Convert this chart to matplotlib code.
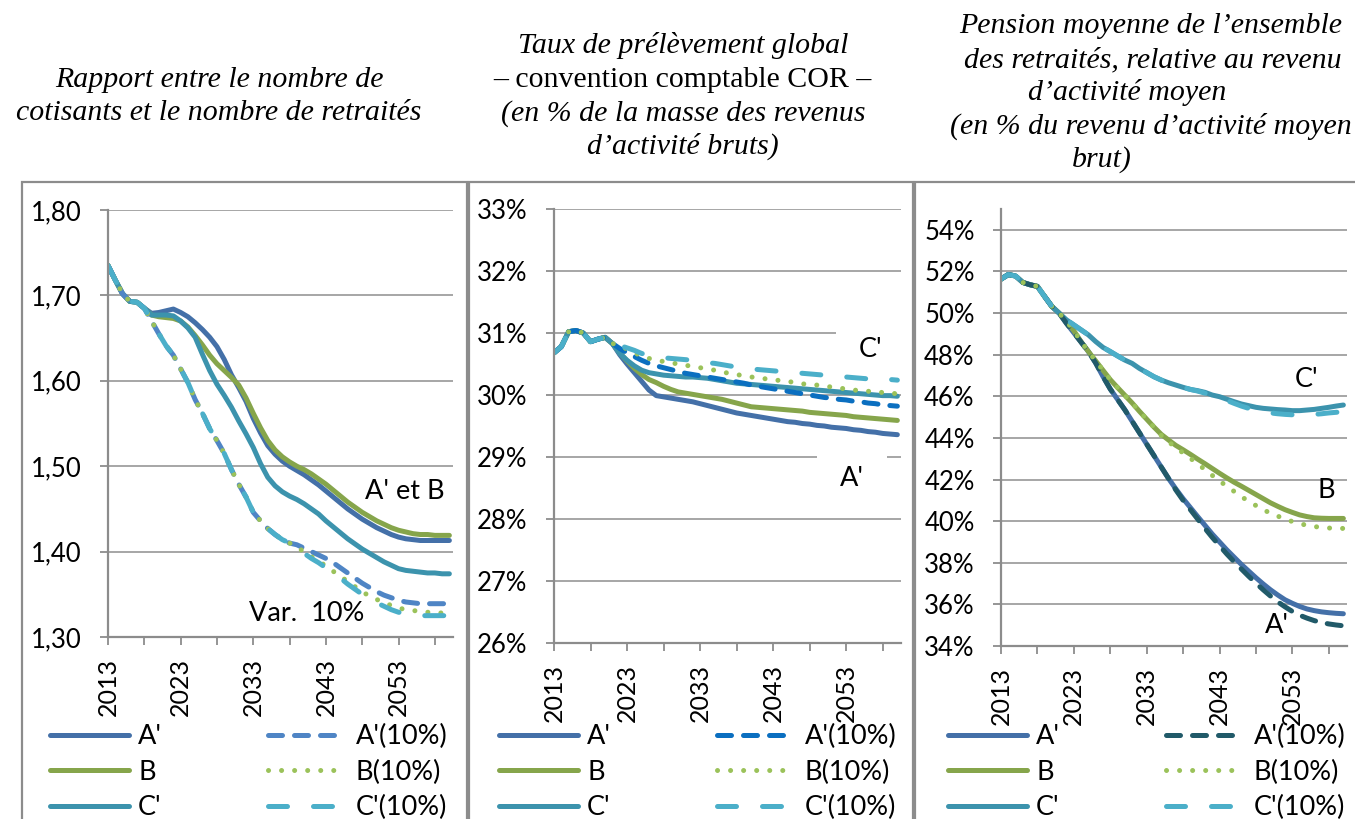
import matplotlib
matplotlib.use("Agg")
import matplotlib.pyplot as plt
from matplotlib.patches import Rectangle
from matplotlib.ticker import FuncFormatter, FixedLocator

plt.rcParams['font.family'] = ['Lato', 'DejaVu Sans']

years = list(range(2013, 2061))

# --- panel 1 : rapport cotisants / retraités (2013-2018 commun)
ratio_start = [1.735, 1.718, 1.702, 1.693, 1.692, 1.685]
ratio_a = ratio_start + [1.679, 1.680, 1.682, 1.684, 1.680, 1.675, 1.668, 1.660, 1.651, 1.640,
                         1.625, 1.607, 1.592, 1.576, 1.556, 1.539, 1.524, 1.514, 1.506, 1.500,
                         1.495, 1.490, 1.484, 1.478, 1.471, 1.464, 1.457, 1.450, 1.444, 1.438,
                         1.433, 1.428, 1.424, 1.420, 1.417, 1.415, 1.414, 1.413, 1.413, 1.413,
                         1.413, 1.413]
ratio_b = ratio_start + [1.677, 1.675, 1.674, 1.673, 1.670, 1.663, 1.653, 1.642, 1.630, 1.620,
                         1.612, 1.604, 1.595, 1.580, 1.562, 1.545, 1.530, 1.519, 1.511, 1.505,
                         1.500, 1.496, 1.491, 1.485, 1.479, 1.472, 1.465, 1.458, 1.452, 1.446,
                         1.441, 1.436, 1.432, 1.428, 1.425, 1.423, 1.421, 1.420, 1.420, 1.419,
                         1.419, 1.419]
ratio_c = ratio_start + [1.677, 1.677, 1.677, 1.676, 1.670, 1.662, 1.651, 1.631, 1.612, 1.596,
                         1.583, 1.569, 1.553, 1.538, 1.522, 1.503, 1.487, 1.477, 1.470, 1.465,
                         1.461, 1.456, 1.450, 1.444, 1.436, 1.429, 1.422, 1.415, 1.409, 1.403,
                         1.398, 1.393, 1.388, 1.384, 1.380, 1.378, 1.377, 1.376, 1.375, 1.375,
                         1.374, 1.374]
ratio_var = ratio_start + [1.670, 1.655, 1.641, 1.630, 1.614, 1.598, 1.578, 1.562, 1.544, 1.530,
                           1.515, 1.496, 1.479, 1.464, 1.446, 1.436, 1.427, 1.420, 1.414, 1.410]
ratio_a10 = ratio_var + [1.408, 1.404, 1.400, 1.396, 1.392, 1.387, 1.381, 1.375, 1.369, 1.363,
                         1.358, 1.353, 1.349, 1.346, 1.343, 1.341, 1.340, 1.339, 1.339, 1.339,
                         1.339, 1.339]
ratio_b10 = ratio_var + [1.405, 1.400, 1.394, 1.389, 1.383, 1.377, 1.371, 1.365, 1.359, 1.353,
                         1.348, 1.344, 1.340, 1.337, 1.334, 1.332, 1.331, 1.330, 1.329, 1.329,
                         1.328, 1.328]
ratio_c10 = ratio_var + [1.403, 1.398, 1.392, 1.387, 1.381, 1.375, 1.369, 1.362, 1.356, 1.350,
                         1.345, 1.340, 1.336, 1.332, 1.329, 1.327, 1.326, 1.325, 1.325, 1.325,
                         1.325, 1.325]

# --- panel 2 : taux de prélèvement global (%) (2013-2021 commun)
taux_start = [30.68, 30.78, 31.02, 31.04, 31.00, 30.86, 30.90, 30.93, 30.83]
taux_a = taux_start + [30.65, 30.50, 30.36, 30.22, 30.08, 29.99, 29.97, 29.95, 29.93, 29.91,
                       29.89, 29.86, 29.83, 29.80, 29.77, 29.74, 29.71, 29.69, 29.67, 29.65,
                       29.63, 29.61, 29.59, 29.57, 29.56, 29.54, 29.53, 29.51, 29.50, 29.48,
                       29.47, 29.46, 29.44, 29.43, 29.41, 29.40, 29.38, 29.37, 29.36]
taux_b = taux_start + [30.68, 30.55, 30.43, 30.33, 30.25, 30.20, 30.14, 30.09, 30.05, 30.03,
                       30.01, 29.99, 29.97, 29.95, 29.93, 29.90, 29.87, 29.84, 29.81, 29.80,
                       29.79, 29.78, 29.77, 29.76, 29.75, 29.74, 29.72, 29.71, 29.70, 29.69,
                       29.68, 29.67, 29.65, 29.64, 29.63, 29.62, 29.61, 29.60, 29.59]
taux_c = taux_start + [30.67, 30.56, 30.47, 30.40, 30.36, 30.34, 30.32, 30.31, 30.30, 30.29,
                       30.29, 30.28, 30.27, 30.25, 30.23, 30.21, 30.19, 30.18, 30.17, 30.16,
                       30.15, 30.14, 30.13, 30.12, 30.11, 30.10, 30.09, 30.08, 30.07, 30.06,
                       30.05, 30.04, 30.03, 30.02, 30.01, 30.00, 29.99, 29.99, 29.98]
taux_a10 = taux_start + [30.75, 30.68, 30.62, 30.56, 30.51, 30.47, 30.44, 30.41, 30.38, 30.35,
                         30.33, 30.31, 30.29, 30.27, 30.25, 30.23, 30.21, 30.19, 30.16, 30.14,
                         30.12, 30.10, 30.08, 30.06, 30.04, 30.02, 30.00, 29.98, 29.96, 29.95,
                         29.93, 29.92, 29.90, 29.89, 29.87, 29.86, 29.84, 29.83, 29.82]
taux_b10 = taux_start + [30.80, 30.74, 30.68, 30.63, 30.59, 30.56, 30.54, 30.52, 30.50, 30.48,
                         30.46, 30.44, 30.42, 30.40, 30.37, 30.35, 30.33, 30.31, 30.29, 30.28,
                         30.26, 30.25, 30.23, 30.22, 30.20, 30.18, 30.17, 30.16, 30.14, 30.13,
                         30.11, 30.10, 30.08, 30.07, 30.06, 30.05, 30.04, 30.03, 30.02]
taux_c10 = taux_start + [30.80, 30.76, 30.72, 30.67, 30.64, 30.62, 30.60, 30.59, 30.58, 30.57,
                         30.56, 30.54, 30.52, 30.51, 30.49, 30.47, 30.45, 30.43, 30.42, 30.41,
                         30.40, 30.39, 30.38, 30.37, 30.36, 30.35, 30.34, 30.33, 30.32, 30.31,
                         30.30, 30.29, 30.28, 30.27, 30.26, 30.26, 30.25, 30.25, 30.24]

# --- panel 3 : pension moyenne relative (%) (2013-2021 commun)
pens_start = [51.63, 51.85, 51.78, 51.47, 51.36, 51.28, 50.79, 50.31, 49.99]
pens_a = pens_start + [49.50, 49.05, 48.60, 48.15, 47.60, 46.95, 46.35, 45.85, 45.35, 44.80,
                       44.25, 43.70, 43.15, 42.60, 42.05, 41.55, 41.08, 40.65, 40.22, 39.80,
                       39.38, 39.00, 38.62, 38.27, 37.92, 37.60, 37.28, 36.98, 36.70, 36.45,
                       36.22, 36.05, 35.90, 35.78, 35.70, 35.64, 35.60, 35.57, 35.55]
pens_b = pens_start + [49.60, 49.15, 48.62, 48.15, 47.70, 47.25, 46.80, 46.42, 46.05, 45.68,
                       45.28, 44.90, 44.52, 44.17, 43.90, 43.64, 43.43, 43.21, 42.98, 42.76,
                       42.53, 42.30, 42.08, 41.87, 41.68, 41.48, 41.28, 41.08, 40.88, 40.71,
                       40.55, 40.42, 40.30, 40.22, 40.16, 40.14, 40.13, 40.13, 40.13]
pens_c = pens_start + [49.67, 49.43, 49.19, 48.95, 48.63, 48.35, 48.15, 47.94, 47.74, 47.58,
                       47.34, 47.14, 46.94, 46.78, 46.65, 46.54, 46.43, 46.33, 46.27, 46.19,
                       46.06, 45.98, 45.86, 45.74, 45.63, 45.55, 45.47, 45.42, 45.39, 45.36,
                       45.34, 45.31, 45.31, 45.34, 45.37, 45.42, 45.47, 45.53, 45.58]
pens_a10 = pens_start + [49.50, 49.05, 48.60, 48.15, 47.60, 46.95, 46.35, 45.85, 45.35, 44.80,
                         44.25, 43.70, 43.15, 42.60, 42.05, 41.50, 41.00, 40.55, 40.10, 39.65,
                         39.22, 38.82, 38.42, 38.05, 37.70, 37.35, 37.02, 36.70, 36.40, 36.12,
                         35.88, 35.66, 35.48, 35.34, 35.22, 35.13, 35.06, 35.01, 34.97]
pens_b10 = pens_start + [49.60, 49.15, 48.62, 48.15, 47.70, 47.25, 46.80, 46.42, 46.05, 45.68,
                         45.28, 44.90, 44.52, 44.12, 43.82, 43.53, 43.28, 43.02, 42.75, 42.48,
                         42.20, 41.93, 41.68, 41.43, 41.18, 40.95, 40.75, 40.55, 40.38, 40.24,
                         40.10, 39.98, 39.88, 39.80, 39.74, 39.70, 39.67, 39.65, 39.65]
pens_c10 = pens_start + [49.67, 49.43, 49.19, 48.95, 48.63, 48.35, 48.15, 47.94, 47.74, 47.58,
                         47.34, 47.14, 46.94, 46.78, 46.65, 46.54, 46.43, 46.33, 46.25, 46.15,
                         46.02, 45.92, 45.80, 45.66, 45.53, 45.42, 45.33, 45.25, 45.20, 45.16,
                         45.13, 45.11, 45.10, 45.11, 45.13, 45.16, 45.20, 45.23, 45.26]

labels = ["A'", "B", "C'", "A'(10%)", "B(10%)", "C'(10%)"]
xtick_labels = [2013, 2023, 2033, 2043, 2053]

titles = [
    [("Rapport entre le nombre de", True, 219, 87),
     ("cotisants et le nombre de retraités", True, 219, 120)],
    [("Taux de prélèvement global", True, 683, 53),
     ("– convention comptable COR –", False, 682, 87),
     ("(en % de la masse des revenus", True, 683, 121),
     ("d’activité bruts)", True, 683, 154)],
    [("Pension moyenne de l’ensemble", True, 1151, 33),
     ("des retraités, relative au revenu", True, 1153, 67),
     ("d’activité moyen", True, 1127, 100),
     ("(en % du revenu d’activité moyen", True, 1151, 134),
     ("brut)", True, 1102, 167)],
]

W, H = 1355, 819
fig = plt.figure(figsize=(W / 100, H / 100), dpi=100)


def fx(px):
    return px / W


def fy(py):
    return 1 - py / H


def add_axes(x0, y0, x1, y1):
    return fig.add_axes([fx(x0), fy(y1), (x1 - x0) / W, (y1 - y0) / H])


col_a, col_b, col_c = '#4470A8', '#86A54B', '#3C93AD'
col_b10, col_c10 = '#9BC25A', '#4BAFC9'
dash_a = (0, (2.8, 2.4))
dash_b = (0, (0.01, 2.6))
dash_c = (0, (3.8, 5.2))

panels = [
    dict(rect=(108, 210, 453, 637), series=[ratio_a, ratio_b, ratio_c, ratio_a10, ratio_b10, ratio_c10],
         a10='#4F85C5', ylim=(1.30, 1.80), yticks=[1.30, 1.40, 1.50, 1.60, 1.70, 1.80],
         fmt=lambda v, p: f"{v:.2f}".replace('.', ','), leg_x=50,
         notes=[("A' et B", 2053.8, 1.470, False), ("Var.  10%", 2040.4, 1.327, False)],
         frame=(22, 467)),
    dict(rect=(554, 209, 901, 643), series=[taux_a, taux_b, taux_c, taux_a10, taux_b10, taux_c10],
         a10='#0B6FC0', ylim=(26, 33), yticks=list(range(26, 34)),
         fmt=lambda v, p: f"{v:.0f}%", leg_x=499,
         notes=[("C'", 2056.4, 30.73, True), ("A'", 2053.8, 28.66, True)],
         frame=(469, 913)),
    dict(rect=(1001, 209, 1347, 646), series=[pens_a, pens_b, pens_c, pens_a10, pens_b10, pens_c10],
         a10='#215A69', ylim=(34, 55), yticks=list(range(34, 56, 2)),
         fmt=lambda v, p: f"{v:.0f}%", leg_x=948,
         notes=[("C'", 2055.0, 46.79, False), ("B", 2057.6, 41.45, False), ("A'", 2050.9, 35.0, False)],
         frame=(915, 1362)),
]

grey = '#8C8C8C'
lw = 3.6
fs = 19.5

for i, p in enumerate(panels):
    # gray frame round each chart
    x0, x1 = p['frame']
    fig.add_artist(Rectangle((fx(x0), fy(H + 20)), (x1 - x0) / W, (H + 20 - 182) / H,
                             transform=fig.transFigure, fill=False, ec=grey, lw=1.6))
    ax = add_axes(*p['rect'])
    colors = [col_a, col_b, col_c, p['a10'], col_b10, col_c10]
    styles = ['-', '-', '-', dash_a, dash_b, dash_c]
    handles = []
    for vals, c, ls, lab in zip(p['series'], colors, styles, labels):
        ln, = ax.plot(years, vals, color=c, ls=ls, lw=lw, label=lab, zorder=2,
                      solid_capstyle='round', dash_capstyle='round', solid_joinstyle='round')
        handles.append(ln)

    ax.set_xlim(2013, 2060.5)
    ax.set_ylim(*p['ylim'])
    ax.xaxis.set_major_locator(FixedLocator(xtick_labels))
    ax.xaxis.set_minor_locator(FixedLocator([y + 5 for y in xtick_labels]))
    ax.set_xticklabels([str(y) for y in xtick_labels], rotation=90, fontsize=18)
    ax.yaxis.set_major_locator(FixedLocator(p['yticks']))
    ax.yaxis.set_major_formatter(FuncFormatter(p['fmt']))
    ax.tick_params(axis='y', labelsize=18.5, length=6, width=1.3, color=grey, pad=13)
    ax.tick_params(axis='x', which='both', length=6, width=1.3, color=grey, pad=9)
    ax.set_axisbelow(True)
    ax.grid(axis='y', color='#A6A6A6', lw=1.4, zorder=0.5)
    for s in ['top', 'right']:
        ax.spines[s].set_visible(False)
    for s in ['left', 'bottom']:
        ax.spines[s].set_color(grey)
        ax.spines[s].set_linewidth(1.6)

    for txt, xv, yv, boxed in p['notes']:
        kw = dict(bbox=dict(boxstyle='square,pad=0.85', fc='white', ec='none')) if boxed else {}
        ax.text(xv, yv, txt, fontsize=fs, ha='center', va='center', zorder=1, **kw)

    ax.legend(handles, labels, ncol=2,
              loc='upper left', bbox_to_anchor=(fx(p['leg_x']), fy(724)),
              bbox_transform=fig.transFigure, frameon=False, fontsize=fs,
              borderpad=0, borderaxespad=0, handlelength=2.9, handletextpad=0.35,
              columnspacing=3.9, labelspacing=0.39)

    for txt, ital, cx, by in titles[i]:
        fig.text(fx(cx), fy(by), txt, family='Liberation Serif',
                 style='italic' if ital else 'normal', fontsize=21.5, ha='center', va='baseline')

fig.savefig('out.png', dpi=100)
